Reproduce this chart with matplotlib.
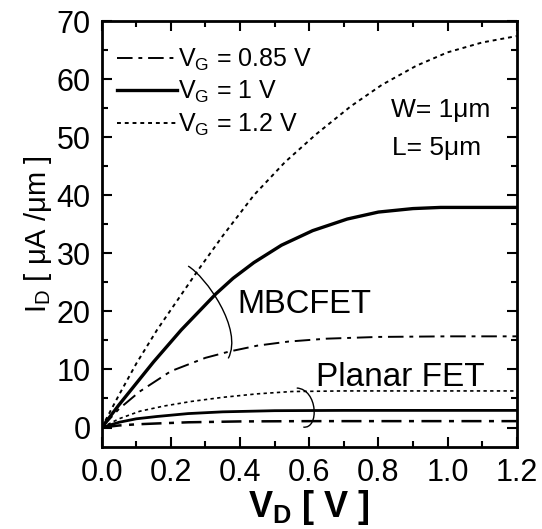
import matplotlib
matplotlib.use("Agg")
import matplotlib.pyplot as plt
from matplotlib.path import Path
from matplotlib.patches import PathPatch
from matplotlib.ticker import MultipleLocator

# ---- data (V_D in V, I_D in uA/um) ----
vd_mb_085 = [0, 0.05, 0.11, 0.20, 0.30, 0.37, 0.45, 0.54, 0.65, 0.80, 1.0, 1.2]
id_mb_085 = [0, 3.2, 6.2, 9.7, 12.0, 13.1, 14.1, 14.8, 15.3, 15.6, 15.7, 15.7]

vd_mb_1 = [0, 0.05, 0.10, 0.15, 0.23, 0.28, 0.33, 0.38, 0.44, 0.52, 0.61, 0.71,
           0.80, 0.90, 0.98, 1.1, 1.2]
id_mb_1 = [0, 3.9, 7.6, 11.3, 16.8, 19.9, 23.0, 25.7, 28.4, 31.4, 33.9, 35.9,
           37.1, 37.7, 37.9, 37.9, 37.9]

vd_mb_12 = [0, 0.05, 0.10, 0.16, 0.22, 0.28, 0.35, 0.44, 0.53, 0.62, 0.72, 0.81,
            0.91, 1.0, 1.1, 1.2]
id_mb_12 = [0, 5.6, 11.0, 16.8, 22.0, 27.2, 33.0, 40.0, 45.7, 50.5, 55.3, 59.0,
            62.3, 64.6, 66.3, 67.4]

vd_pl_085 = [0, 0.05, 0.10, 0.16, 0.25, 0.40, 0.60, 1.2]
id_pl_085 = [0, 0.35, 0.55, 0.70, 0.90, 1.05, 1.10, 1.10]

vd_pl_1 = [0, 0.05, 0.10, 0.16, 0.25, 0.35, 0.50, 0.70, 1.2]
id_pl_1 = [0, 0.9, 1.5, 1.9, 2.4, 2.7, 2.9, 2.95, 2.95]

vd_pl_12 = [0, 0.05, 0.11, 0.18, 0.26, 0.35, 0.45, 0.55, 0.70, 1.2]
id_pl_12 = [0, 1.5, 2.8, 3.7, 4.5, 5.2, 5.8, 6.2, 6.3, 6.3]

legend_labels = [r'V$_\mathregular{G}$ = 0.85 V', r'V$_\mathregular{G}$ = 1 V',
                 r'V$_\mathregular{G}$ = 1.2 V']

plt.rcParams['font.family'] = ['Liberation Sans', 'DejaVu Sans']
plt.rcParams['mathtext.fontset'] = 'custom'
plt.rcParams['mathtext.rm'] = 'Liberation Sans'
plt.rcParams['mathtext.it'] = 'Liberation Sans:italic'
plt.rcParams['mathtext.bf'] = 'Liberation Sans:bold'

fig = plt.figure(figsize=(5.42, 5.29), dpi=100)
ax = fig.add_axes([0.1876, 0.1556, 0.7657, 0.8047])

dashdot = (0, (8, 3, 2, 3))
dotted = (0, (2, 2))

# MBCFET
l1, = ax.plot(vd_mb_085, id_mb_085, color='black', lw=1.4, linestyle=dashdot)
l2, = ax.plot(vd_mb_1, id_mb_1, color='black', lw=2.4, linestyle='-')
l3, = ax.plot(vd_mb_12, id_mb_12, color='black', lw=1.4, linestyle=dotted)
# Planar FET
ax.plot(vd_pl_085, id_pl_085, color='black', lw=1.8, linestyle=dashdot)
ax.plot(vd_pl_1, id_pl_1, color='black', lw=2.0, linestyle='-')
ax.plot(vd_pl_12, id_pl_12, color='black', lw=1.2, linestyle=dotted)

ax.set_xlim(0, 1.2)
ax.set_ylim(-3.3, 70)
ax.xaxis.set_major_locator(MultipleLocator(0.2))
ax.xaxis.set_minor_locator(MultipleLocator(0.1))
ax.yaxis.set_major_locator(MultipleLocator(10))
ax.yaxis.set_minor_locator(MultipleLocator(5))
ax.set_yticks([0, 10, 20, 30, 40, 50, 60, 70])
ax.tick_params(which='both', direction='in', top=True, right=True, width=1.5)
ax.tick_params(which='major', length=7, labelsize=22, pad=8)
ax.tick_params(which='minor', length=4)
for s in ax.spines.values():
    s.set_linewidth(2)

ax.set_xlabel(r'V$_\mathregular{D}$ [ V ]', fontsize=26, fontweight='bold', labelpad=0)
ax.set_ylabel(r'I$_\mathregular{D}$ [ μA /μm ]', fontsize=21, labelpad=2)

ax.legend([l1, l2, l3], legend_labels, loc='upper left', frameon=False,
          fontsize=18, handlelength=2.4, handletextpad=0.05,
          labelspacing=0.25, borderaxespad=0.2, bbox_to_anchor=(0.0, 0.975))

ax.text(0.393, 21.1, 'MBCFET', fontsize=23.5, va='center', ha='left')
ax.text(0.620, 8.6, 'Planar FET', fontsize=24, va='center', ha='left')
ax.text(0.836, 54.7, 'W= 1μm', fontsize=19, va='center', ha='left')
ax.text(0.840, 48.1, 'L= 5μm', fontsize=19, va='center', ha='left')

# curved brackets grouping the curves
codes = [Path.MOVETO, Path.CURVE4, Path.CURVE4, Path.CURVE4]
mb_loop = Path([(0.25, 27.8), (0.30, 26.0), (0.41, 17.0), (0.366, 11.9)], codes)
pl_loop = Path([(0.564, 6.8), (0.625, 6.6), (0.63, -0.3), (0.583, 0.07)], codes)
for p in (mb_loop, pl_loop):
    ax.add_patch(PathPatch(p, facecolor='none', edgecolor='black', lw=1.0))

fig.savefig('out.png', dpi=100)
